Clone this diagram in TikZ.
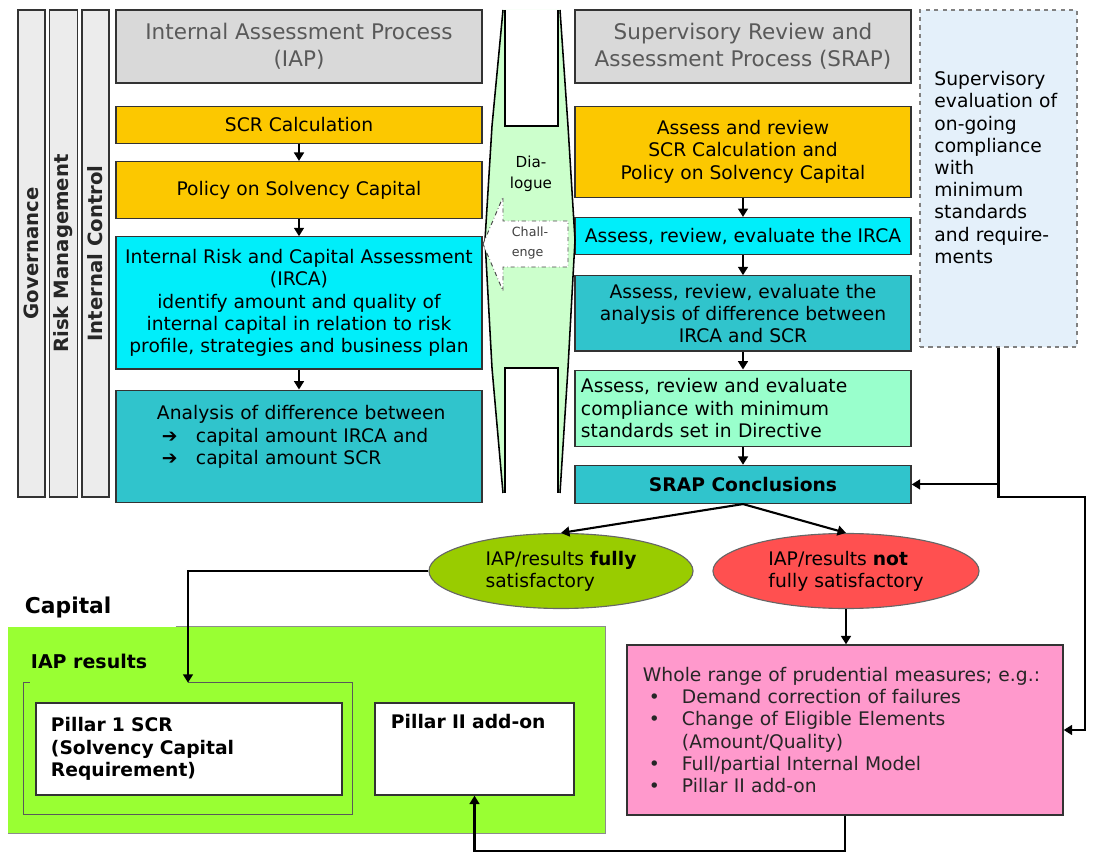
\documentclass[tikz,border=0pt]{standalone}
\usepackage{fontspec}
\setmainfont{DejaVu Sans}
\usepackage{tikz}
\usetikzlibrary{shapes.geometric, arrows.meta, positioning, calc}

\definecolor{hdrgray}{RGB}{217,217,217}
\definecolor{lanegray}{RGB}{236,236,236}
\definecolor{scrorange}{RGB}{252,200,0}
\definecolor{irccyan}{RGB}{0,238,250}
\definecolor{difteal}{RGB}{48,196,204}
\definecolor{cmpmint}{RGB}{153,255,204}
\definecolor{dlggreen}{RGB}{204,255,204}
\definecolor{supblue}{RGB}{228,240,250}
\definecolor{okgreen}{RGB}{153,204,0}
\definecolor{nokred}{RGB}{255,80,80}
\definecolor{measpink}{RGB}{255,153,204}
\definecolor{capgreen}{RGB}{153,255,51}

\newcommand{\mitem}[1]{\hspace*{0.15cm}\makebox[0.825cm][l]{•}#1}
\newcommand{\mcont}[1]{\hspace*{0.975cm}#1}

\tikzset{
  comp/.style={rectangle, draw=black!80, line width=0.9pt, align=center,
               font=\fontsize{13.3pt}{15.8pt}\selectfont, inner sep=2pt},
  hdr/.style={comp, fill=hdrgray, text=black!65,
              font=\fontsize{15.3pt}{19pt}\selectfont},
  orng/.style={comp, fill=scrorange},
  cyanb/.style={comp, fill=irccyan},
  tealb/.style={comp, fill=difteal},
  mintb/.style={comp, fill=cmpmint},
  lcol/.style={minimum width=9.15cm},
  rcol/.style={minimum width=8.4cm},
  lane/.style={rectangle, draw=black!80, fill=lanegray, line width=0.9pt,
               rotate=90, minimum width=12.175cm, minimum height=0.675cm,
               font=\fontsize{14pt}{16pt}\selectfont\bfseries, text=black!85},
  arr/.style={-{Triangle[length=6pt, width=7pt]}, line width=1.5pt},
}

\begin{document}
\begin{tikzpicture}[x=0.025cm, y=-0.025cm,
  dlgline/.style={line width=1.1pt},
  chl/.style={draw=black!70, dash dot, line width=0.7pt, fill=white},
  verdict/.style={ellipse, draw=black!60, line width=0.8pt, minimum width=6.6cm,
                  minimum height=1.875cm, align=left,
                  font=\fontsize{13.3pt}{15.8pt}\selectfont},
  pil/.style={comp, fill=white, align=left,
              font=\fontsize{13.3pt}{16pt}\selectfont\bfseries},
  sub/.style={font=\fontsize{13.5pt}{16pt}\selectfont\bfseries, anchor=west},
]
  \useasboundingbox (0,0) rectangle (1093,852);

  % lanes on the left
  \node[lane] (gov) at (31.5,253.5) {Governance};
  \node[lane] (rm)  at (63.5,253.5) {Risk Management};
  \node[lane] (ic)  at (95.5,253.5) {Internal Control};

  % IAP column
  \node[hdr, lcol, minimum height=1.825cm] (iap) at (299,46.5)
    {Internal Assessment Process\\(IAP)};
  \node[orng, lcol, minimum height=0.925cm, below=0.55cm of iap] (scr) {SCR Calculation};
  \node[orng, lcol, minimum height=1.425cm, below=0.425cm of scr] (pol) {Policy on Solvency Capital};
  \node[cyanb, lcol, minimum height=3.3cm, below=0.425cm of pol] (irca)
    {Internal Risk and Capital Assessment\\(IRCA)\\identify amount and quality of\\
     internal capital in relation to risk\\profile, strategies and business plan};
  \node[tealb, lcol, minimum height=2.8cm, below=0.5cm of irca, align=left,
        text width=9.15cm, inner xsep=0pt] (ana)
    {\hspace*{1.025cm}Analysis of difference between\\
     \hspace*{1.15cm}\makebox[0.85cm][l]{➔}capital amount IRCA and\\
     \hspace*{1.15cm}\makebox[0.85cm][l]{➔}capital amount SCR\\ \mbox{}};

  % SRAP column
  \node[hdr, rcol, minimum height=1.825cm] (srap) at (743,46.5)
    {Supervisory Review and\\Assessment Process (SRAP)};
  \node[orng, rcol, minimum height=2.275cm, below=0.55cm of srap] (arsc)
    {Assess and review\\SCR Calculation and\\Policy on Solvency Capital};
  \node[cyanb, rcol, minimum height=0.925cm, below=0.475cm of arsc] (arirca)
    {Assess, review, evaluate the IRCA};
  \node[tealb, rcol, minimum height=1.875cm, below=0.5cm of arirca] (aranal)
    {Assess, review, evaluate the\\analysis of difference between\\IRCA and SCR};
  \node[mintb, rcol, minimum height=1.9cm, below=0.45cm of aranal, align=left,
        text width=8.1cm, inner xsep=0.15cm] (arcomp)
    {Assess, review and evaluate\\compliance with minimum\\standards set in Directive};
  \node[tealb, rcol, minimum height=0.95cm, below=0.45cm of arcomp] (concl)
    {\textbf{SRAP Conclusions}};

  % ongoing supervision
  \node[comp, dashed, draw=black!50, fill=supblue, align=left, text width=3.2cm,
        minimum width=3.925cm, minimum height=8.425cm] (sev) at (998.5,178.5)
    {Supervisory\\evaluation of\\on-going\\compliance\\with\\minimum\\standards\\
     and require-\\ments\\ \mbox{}};

  % dialogue band
  \fill[dlggreen] (503,10) -- (492,126) -- (485,240) -- (492,368) -- (503,493)
    -- (560,493) -- (568,368) -- (575,240) -- (568,126) -- (560,10) -- cycle;
  \fill[white] (505,10) rectangle (558,126);
  \fill[white] (505,368) rectangle (558,493);
  \draw[dlgline] (503,10) -- (492,126) -- (485,240) -- (492,368) -- (503,493);
  \draw[dlgline] (560,10) -- (568,126) -- (575,240) -- (568,368) -- (560,493);
  \draw[dlgline] (505,10) -- (505,126) -- (558,126) -- (558,10);
  \draw[dlgline] (505,493) -- (505,368) -- (558,368) -- (558,493);
  \node[align=center, font=\fontsize{10.8pt}{15pt}\selectfont] (dlg) at (531,174)
    {Dia-\\logue};
  \draw[chl] (483,244) -- (503,197) -- (503,221) -- (568,221) -- (568,267)
    -- (503,267) -- (503,291) -- cycle;
  \node[align=left, text=black!75, font=\fontsize{9pt}{14pt}\selectfont] (chg)
    at (530,243) {Chall-\\enge};

  % outcomes
  \node[verdict, fill=okgreen] (sat) at (561,571)
    {IAP/results \textbf{fully}\\satisfactory};
  \node[verdict, fill=nokred, minimum width=6.65cm] (notsat) at (846,571)
    {IAP/results \textbf{not}\\fully satisfactory};

  % capital
  \node[sub, font=\fontsize{15.5pt}{18pt}\selectfont\bfseries] (caplbl) at (20,607) {Capital};
  \node[fill=capgreen, minimum width=14.925cm, minimum height=5.15cm, inner sep=0pt]
    (capital) at (306.5,730) {};
  \draw[black!45, line width=0.8pt] ($(capital.north west)+(168,0)$)
    -- (capital.north east) -- (capital.south east) -- (capital.south west);
  \node[sub] (reslbl) at (26,661) {IAP results};
  \node[minimum width=8.2cm, minimum height=3.275cm, inner sep=0pt] (res) at (188,748.5) {};
  \draw[black!65, line width=0.8pt] ($(res.north west)+(6,0)$) -- (res.north west)
    -- (res.south west) -- (res.south east) -- (res.north east) -- (res.north);
  \node[pil, text width=6.9cm, inner xsep=0.375cm, minimum height=2.3cm] (pil1)
    at (189,749) {Pillar 1 SCR\\(Solvency Capital\\Requirement)};
  \node[pil, text width=4.175cm, inner xsep=0.4cm, inner ysep=0.15cm,
        text height=0.5cm, text depth=1.5cm] (pil2) at (474.5,749) {Pillar II add-on};

  % prudential measures
  \node[comp, fill=measpink, align=left, text width=10.1cm, inner xsep=0.4cm,
        minimum height=4.25cm, text=black!85] (meas) at (845,730)
    {Whole range of prudential measures; e.g.:\\
     \mitem{Demand correction of failures}\\
     \mitem{Change of Eligible Elements}\\
     \mcont{(Amount/Quality)}\\
     \mitem{Full/partial Internal Model}\\
     \mitem{Pillar II add-on}};

  % connectors
  \draw[arr] (scr) -- (pol);
  \draw[arr] (pol) -- (irca);
  \draw[arr] (irca) -- (ana);
  \draw[arr] (arsc) -- (arirca);
  \draw[arr] (arirca) -- (aranal);
  \draw[arr] (aranal) -- (arcomp);
  \draw[arr] (arcomp) -- (concl);
  \draw[arr] (concl.south) -- (sat.north);
  \draw[arr] (concl.south) -- (notsat.north);
  \draw[arr] (sat.west) -| (res.north);
  \draw[arr] (notsat.south) -- (notsat.south |- meas.north);
  \draw[arr] (meas.south) -- ++(0,35) -| (pil2.south);
  \coordinate (rail) at (1085,497);
  \draw[arr] (sev.south) |- (rail) |- (meas.east);
  \draw[arr] (sev.south |- concl.east) -- (concl.east);

\end{tikzpicture}
\end{document}
